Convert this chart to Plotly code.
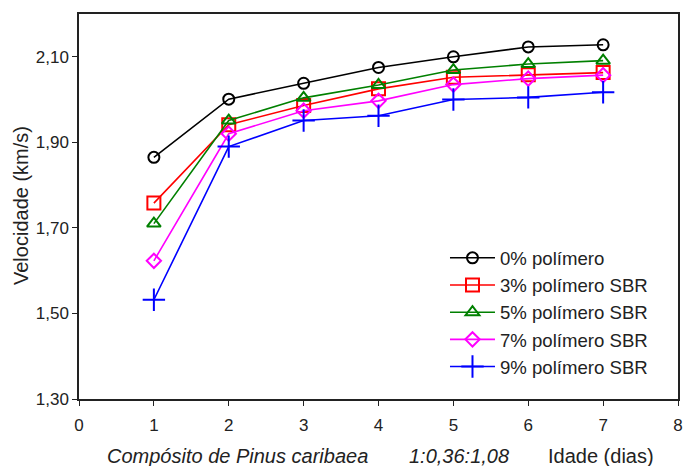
import plotly.graph_objects as go

idade = [1, 2, 3, 4, 5, 6, 7]

series_names = ["0% polímero", "3% polímero SBR", "5% polímero SBR",
                "7% polímero SBR", "9% polímero SBR"]
v_0 = [1.865, 2.001, 2.038, 2.075, 2.100, 2.123, 2.128]
v_3 = [1.758, 1.941, 1.986, 2.025, 2.052, 2.058, 2.063]
v_5 = [1.710, 1.951, 2.004, 2.034, 2.069, 2.083, 2.091]
v_7 = [1.623, 1.920, 1.974, 1.997, 2.035, 2.049, 2.057]
v_9 = [1.532, 1.890, 1.951, 1.962, 2.000, 2.005, 2.017]

y_ticks = [1.30, 1.50, 1.70, 1.90, 2.10]
x_ticks = [0, 1, 2, 3, 4, 5, 6, 7, 8]

styles = [
    ("black", "circle-open", 11),
    ("#ff0000", "square-open", 13),
    ("#008000", "triangle-up-open", 12),
    ("#ff00ff", "diamond-open", 11),
    ("#0000ff", "cross-thin-open", 16),
]

FONT = "Liberation Sans, Arial, sans-serif"
INK = "#222"

fig = go.Figure()
for name, vals, (col, sym, sz) in zip(series_names, [v_0, v_3, v_5, v_7, v_9], styles):
    fig.add_trace(go.Scatter(
        x=idade, y=vals, name=name, legendgroup=name, mode="lines+markers",
        line=dict(color=col, width=1.6),
        marker=dict(symbol=sym, size=sz, color=col, line=dict(color=col, width=2)),
    ))

axis_common = dict(
    showline=True, mirror=True, linecolor=INK, linewidth=1.5,
    ticks="outside", ticklen=5, tickcolor=INK, showgrid=False, zeroline=False,
    tickfont=dict(family=FONT, size=17, color=INK),
)

fig.update_layout(
    width=688, height=466,
    margin=dict(l=79, r=5, t=14, b=67),
    paper_bgcolor="white", plot_bgcolor="white",
    separators=",.",
    font=dict(family=FONT, color=INK),
    xaxis=dict(range=[0, 8], tickvals=x_ticks, ticklabelstandoff=5, **axis_common),
    yaxis=dict(range=[1.30, 2.20], tickvals=y_ticks, tickformat=".2f", **axis_common),
    legend=dict(x=0.611, y=0.415, xanchor="left", yanchor="top",
                bgcolor="rgba(0,0,0,0)", font=dict(size=18.6, family=FONT, color=INK),
                tracegroupgap=0, itemwidth=45),
    showlegend=True,
)

# y axis title
fig.add_annotation(
    x=(20 - 79) / 604, y=(399 - 205.5) / 385, xref="paper", yref="paper",
    xanchor="center", yanchor="middle", textangle=-90, showarrow=False,
    text="Velocidade (km/s)", font=dict(size=20, family=FONT, color=INK),
)

# x axis title, in three pieces like the original
for txt, xp, italic in [("Compósito de Pinus caribaea", 105, True),
                        ("1:0,36:1,08", 410, True),
                        ("Idade (dias)", 550, False)]:
    fig.add_annotation(
        x=(xp - 79) / 604, y=(399 - 456) / 385, xref="paper", yref="paper",
        xanchor="left", yanchor="middle", showarrow=False,
        text=f"<i>{txt}</i>" if italic else txt,
        font=dict(size=20, family=FONT, color=INK),
    )

fig.write_html("out.html", config={"displayModeBar": False},
               post_script="document.body.style.margin='0';")
